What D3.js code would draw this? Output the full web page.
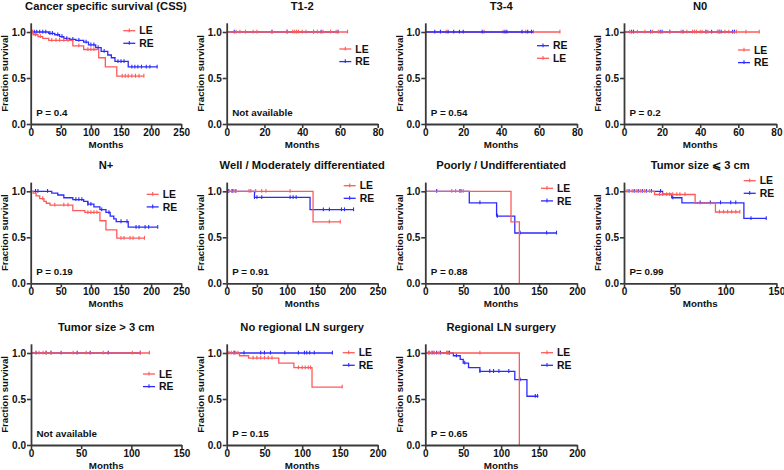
<!DOCTYPE html>
<html><head><meta charset="utf-8">
<script src="https://cdn.jsdelivr.net/npm/d3@7/dist/d3.min.js"></script>
<style>
html,body{margin:0;padding:0;background:#fff;}
svg text{font-family:"Liberation Sans",Arial,sans-serif;font-weight:bold;fill:#111;}
</style></head>
<body>
<svg id="c" width="784" height="470"></svg>
<script>
// ---------- DATA (step points [month, survival], end of follow-up, censor months) ----------
const titles = ["Cancer specific survival (CSS)","T1-2","T3-4","N0","N+","Well / Moderately differentiated","Poorly / Undifferentiated","Tumor size \u2A7D 3 cm","Tumor size > 3 cm","No regional LN surgery","Regional LN surgery"];
const pLabels = ["P = 0.4","Not available","P = 0.54","P = 0.2","P = 0.19","P = 0.91","P = 0.88","P= 0.99","Not available","P = 0.15","P = 0.65"];
const xMaxes = [250,80,80,80,250,250,200,150,150,200,200];
const xSteps = [50,20,20,20,50,50,50,50,50,50,50];
const yTicks = [0,0.5,1.0];
const seriesNames = ["LE","RE"];

const cssLE = [[0,1],[4,0.97],[12,0.95],[20,0.93],[30,0.91],[70,0.85],[88,0.81],[113,0.72],[124,0.62],[143,0.52]];
const cssLEEnd = 188;
const cssLECens = [3,8,16,35,42,48,55,62,80,95,100,105,152,157,162,168,174,180,188];
const cssRE = [[0,1],[30,0.985],[40,0.97],[48,0.95],[55,0.93],[65,0.92],[75,0.91],[88,0.89],[96,0.86],[108,0.83],[117,0.79],[128,0.75],[134,0.72],[140,0.68],[162,0.62]];
const cssREEnd = 210;
const cssRECens = [6,10,15,20,25,32,36,45,52,60,70,80,92,100,105,112,122,145,150,155,168,173,178,184,192,198,210];

const t12LE = [[0,1]]; const t12LEEnd = 64;
const t12LECens = [5,7,10,14,16,24,32,35,36,37,38,40,42,46,48,51,55,58,64];
const t12RE = [[0,1]]; const t12REEnd = 59;
const t12RECens = [4,24,32,46,50,59];

const t34LE = [[0,1]]; const t34LEEnd = 71;
const t34LECens = [11,31,41,53,57,71];
const t34RE = [[0,1]]; const t34REEnd = 57;
const t34RECens = [5,8,12,15,18,20,30,42,43,51,54,56];

const n0LE = [[0,1]]; const n0LEEnd = 71;
const n0LECens = [3,7,11,15,18,24,30,33,36,37,38,40,41,43,44,49,50,53,55,59,64,71];
const n0RE = [[0,1]]; const n0REEnd = 58;
const n0RECens = [4,5,14,19,20,24,31,43,46,50,51,57,58];

const npLE = [[0,1],[4,0.98],[9,0.95],[15,0.92],[22,0.89],[26,0.87],[32,0.85],[70,0.79],[90,0.77],[115,0.68],[125,0.58],[143,0.49]];
const npLEEnd = 189;
const npLECens = [20,40,55,62,95,100,105,110,150,155,165,170,180,189];
const npRE = [[0,1],[35,0.98],[45,0.96],[55,0.93],[70,0.91],[88,0.89],[95,0.86],[105,0.83],[115,0.8],[125,0.77],[132,0.73],[138,0.7],[142,0.67],[162,0.61]];
const npREEnd = 211;
const npRECens = [8,12,28,75,80,85,95,100,118,130,150,160,175,180,190,196,211];

const wdLE = [[0,1],[143,0.667]]; const wdLEEnd = 188;
const wdLECens = [4,8,12,15,37,40,48,58,65,105,170,188];
const wdRE = [[0,1],[46,0.933],[138,0.80]]; const wdREEnd = 210;
const wdRECens = [3,10,15,46,50,58,105,110,115,160,170,190,195,210];

const pdLE = [[0,1],[113,0.667],[124,0]]; const pdLEEnd = 124;
const pdLECens = [35,40,45,50];
const pdRE = [[0,1],[58,0.875],[94,0.73],[118,0.547]]; const pdREEnd = 173;
const pdRECens = [15,47,72,95,125,160,173];

const tsLE = [[0,1],[30,0.965],[70,0.87],[90,0.775]]; const tsLEEnd = 114;
const tsLECens = [3,8,12,16,20,25,35,38,42,45,48,52,55,60,94,98,102,106,110,114];
const tsRE = [[0,1],[38,0.97],[47,0.93],[57,0.875],[118,0.705]]; const tsREEnd = 140;
const tsRECens = [5,10,14,18,22,27,36,48,75,85,95,105,110,125,140];

const tlLE = [[0,1]]; const tlLEEnd = 118;
const tlLECens = [8,12,15,20,42,55,72,101,109,118];
const tlRE = [[0,1]]; const tlREEnd = 109;
const tlRECens = [5,15,20,30,46,59,77,109];

const nrLE = [[0,1],[17,0.97],[29,0.945],[69,0.89],[89,0.84],[113,0.63]]; const nrLEEnd = 153;
const nrLECens = [3,6,9,12,15,35,40,45,50,55,60,95,100,104,108,111,153];
const nrRE = [[0,1]]; const nrREEnd = 140;
const nrRECens = [10,23,45,50,58,77,95,103,106,110,116,140];

const rgLE = [[0,1],[124,0]]; const rgLEEnd = 124;
const rgLECens = [4,8,12,18,28,30,72];
const rgRE = [[0,1],[37,0.97],[46,0.93],[50,0.89],[57,0.84],[72,0.80],[118,0.71],[134,0.53]]; const rgREEnd = 149;
const rgRECens = [5,10,15,20,30,32,41,52,72,85,90,97,110,125,145,148];

// ---------- LAYOUT ----------
const COLORS = {LE:"#ff5a5a", RE:"#2b2bff"};
const colLeft = [30.7, 226.7, 425.3, 624];
const colWidth = [150.5, 151, 151.7, 152.4];
const rowBottom = [124, 283.3, 445];
const unitH = 92;

const panels = [
  {LE:[cssLE,cssLEEnd,cssLECens], RE:[cssRE,cssREEnd,cssRECens], leg:[123.3,30.7], order:["LE","RE"], draw:["RE","LE"]},
  {LE:[t12LE,t12LEEnd,t12LECens], RE:[t12RE,t12REEnd,t12RECens], leg:[339.3,49], order:["LE","RE"], draw:["RE","LE"]},
  {LE:[t34LE,t34LEEnd,t34LECens], RE:[t34RE,t34REEnd,t34RECens], leg:[537,45.7], order:["RE","LE"], draw:["LE","RE"]},
  {LE:[n0LE,n0LEEnd,n0LECens], RE:[n0RE,n0REEnd,n0RECens], leg:[738,50], order:["LE","RE"], draw:["RE","LE"]},
  {LE:[npLE,npLEEnd,npLECens], RE:[npRE,npREEnd,npRECens], leg:[146.7,194.3], order:["LE","RE"], draw:["RE","LE"]},
  {LE:[wdLE,wdLEEnd,wdLECens], RE:[wdRE,wdREEnd,wdRECens], leg:[343.7,185.7], order:["LE","RE"], draw:["RE","LE"]},
  {LE:[pdLE,pdLEEnd,pdLECens], RE:[pdRE,pdREEnd,pdRECens], leg:[541,188.3], order:["LE","RE"], draw:["RE","LE"]},
  {LE:[tsLE,tsLEEnd,tsLECens], RE:[tsRE,tsREEnd,tsRECens], leg:[743.7,180.7], order:["LE","RE"], draw:["RE","LE"]},
  {LE:[tlLE,tlLEEnd,tlLECens], RE:[tlRE,tlREEnd,tlRECens], leg:[143,374], order:["LE","RE"], draw:["RE","LE"]},
  {LE:[nrLE,nrLEEnd,nrLECens], RE:[nrRE,nrREEnd,nrRECens], leg:[342.7,352.7], order:["LE","RE"], draw:["RE","LE"]},
  {LE:[rgLE,rgLEEnd,rgLECens], RE:[rgRE,rgREEnd,rgRECens], leg:[541,352.7], order:["LE","RE"], draw:["RE","LE"]}
];

const svg = d3.select("#c");
const AX = "#3a3a3a";

function survAt(steps, t){
  let s = steps[0][1];
  for (const p of steps){ if (p[0] <= t) s = p[1]; }
  return s;
}

panels.forEach((p, i) => {
  const r = Math.floor(i/4), c = i%4;
  const left = (i===8) ? 31 : colLeft[c];
  const w = colWidth[c];
  const bottom = rowBottom[r];
  const top = bottom - 1.1*unitH;
  const x = d3.scaleLinear().domain([0, xMaxes[i]]).range([left, left + w]);
  const y = d3.scaleLinear().domain([0, 1.1]).range([bottom, top]);
  const g = svg.append("g");

  // curves
  const line = d3.line().x(d => x(d[0])).y(d => y(d[1])).curve(d3.curveStepAfter);
  p.draw.forEach(name => {
    const [steps, end, cens] = p[name];
    const pts = steps.concat([[end, steps[steps.length-1][1]]]);
    g.append("path").attr("d", line(pts)).attr("fill","none")
      .attr("stroke", COLORS[name]).attr("stroke-width",1.3);
    g.selectAll(null).data(cens).enter().append("line")
      .attr("x1", d => x(d)).attr("x2", d => x(d))
      .attr("y1", d => y(survAt(steps,d)) - 2.3).attr("y2", d => y(survAt(steps,d)) + 1.5)
      .attr("stroke", COLORS[name]).attr("stroke-width",1.1);
  });

  // axes
  const ticks = d3.range(0, xMaxes[i] + 0.001, xSteps[i]);
  const xa = g.append("g").attr("transform", `translate(0,${bottom})`)
    .call(d3.axisBottom(x).tickValues(ticks).tickSize(4).tickSizeOuter(0).tickFormat(d3.format("d")));
  const ya = g.append("g").attr("transform", `translate(${left},0)`)
    .call(d3.axisLeft(y).tickValues(yTicks).tickSize(4).tickSizeOuter(0).tickFormat(d3.format(".1f")));
  [xa, ya].forEach(a => {
    a.select(".domain").attr("stroke", AX).attr("stroke-width", 1.8);
    a.selectAll(".tick line").attr("stroke", AX).attr("stroke-width", 1.6);
    a.selectAll(".tick text").attr("font-size", 10).attr("font-family","Liberation Sans, Arial, sans-serif")
      .attr("font-weight","bold").attr("fill","#111");
  });
  xa.selectAll(".tick text").attr("dy", "0.72em").attr("y", 5);
  ya.selectAll(".tick text").attr("x", -5);

  // labels
  g.append("text").attr("x", left + w/2).attr("y", bottom + 24).attr("text-anchor","middle")
    .attr("font-size", 9.8).text("Months");
  g.append("text").attr("transform", `translate(${left - 22.6},${(top+bottom)/2}) rotate(-90)`)
    .attr("text-anchor","middle").attr("font-size", 9.6).text("Fraction survival");
  g.append("text").attr("x", left + w/2).attr("y", bottom - 114).attr("text-anchor","middle")
    .attr("font-size", 11.2).text(titles[i]);
  g.append("text").attr("x", left + 5.5).attr("y", bottom - 8).attr("font-size", 9.8).text(pLabels[i]);

  // legend
  p.order.forEach((name, k) => {
    const lx = p.leg[0], ly = p.leg[1] + k*12.6;
    g.append("line").attr("x1", lx).attr("x2", lx + 12).attr("y1", ly).attr("y2", ly)
      .attr("stroke", COLORS[name]).attr("stroke-width", 1.3);
    g.append("line").attr("x1", lx + 6).attr("x2", lx + 6).attr("y1", ly - 2.3).attr("y2", ly + 1.5)
      .attr("stroke", COLORS[name]).attr("stroke-width", 1.1);
    g.append("text").attr("x", lx + 16).attr("y", ly + 3.7).attr("font-size", 10.4).text(name);
  });
});
</script>
</body></html>
